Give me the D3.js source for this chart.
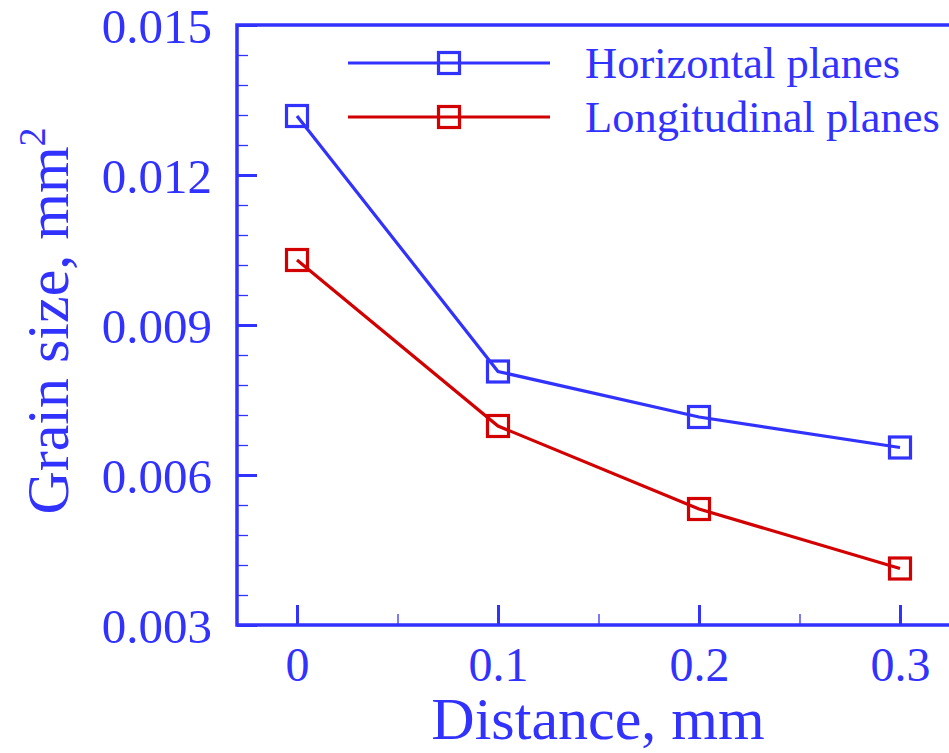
<!DOCTYPE html>
<html>
<head>
<meta charset="utf-8">
<script src="https://cdn.jsdelivr.net/npm/d3@7"></script>
<style>
  html, body { margin: 0; padding: 0; background: #fff; }
  svg { display: block; }
  text { font-family: "Liberation Serif", "Times New Roman", serif; }
</style>
</head>
<body>
<svg id="chart" width="949" height="753"></svg>
<script>
// Grain size measured at increasing distance
const distances = [0, 0.1, 0.2, 0.3];
const horizontalPlanes = [0.01318, 0.00807, 0.00716, 0.00655];
const longitudinalPlanes = [0.0103, 0.00698, 0.00532, 0.00413];
const seriesNames = ["Horizontal planes", "Longitudinal planes"];
const xTickValues = [0, 0.1, 0.2, 0.3];
const xTickLabels = ["0", "0.1", "0.2", "0.3"];
const yTickValues = [0.003, 0.006, 0.009, 0.012, 0.015];
const yTickLabels = ["0.003", "0.006", "0.009", "0.012", "0.015"];

const BLUE = "#3232ff";
const RED = "#d20000";

const svg = d3.select("#chart");
const plotLeft = 237, plotTop = 25, plotBottom = 625, plotRight = 960;

const x = d3.scaleLinear().domain([0, 0.3]).range([297, 900]);
const y = d3.scaleLinear().domain([0.003, 0.015]).range([plotBottom, plotTop]);

// minor ticks
svg.append("g")
  .attr("transform", `translate(${plotLeft},0)`)
  .call(d3.axisLeft(y).tickValues(d3.range(0, 21).map(i => 0.003 + i * 0.0006)).tickSize(-11).tickFormat(""))
  .call(g => g.select(".domain").remove())
  .call(g => g.selectAll("line").attr("stroke", BLUE).attr("stroke-width", 1.3));
svg.append("g")
  .attr("transform", `translate(0,${plotBottom})`)
  .call(d3.axisBottom(x).tickValues([0.05, 0.15, 0.25]).tickSize(-11).tickFormat(""))
  .call(g => g.select(".domain").remove())
  .call(g => g.selectAll("line").attr("stroke", BLUE).attr("stroke-width", 1.3));

// major ticks and labels
const yAxis = svg.append("g")
  .attr("transform", `translate(${plotLeft},0)`)
  .call(d3.axisLeft(y).tickValues(yTickValues).tickSize(-20).tickPadding(25)
    .tickFormat((d, i) => yTickLabels[i]));
yAxis.select(".domain").remove();
yAxis.selectAll("line").attr("stroke", BLUE).attr("stroke-width", 3);
yAxis.selectAll("text").attr("fill", BLUE).attr("dy", "0.36em").style("font-size", "49px")
  .style("font-family", "'Liberation Serif', serif");

const xAxis = svg.append("g")
  .attr("transform", `translate(0,${plotBottom})`)
  .call(d3.axisBottom(x).tickValues(xTickValues).tickSize(-20).tickPadding(22)
    .tickFormat((d, i) => xTickLabels[i]));
xAxis.select(".domain").remove();
xAxis.selectAll("line").attr("stroke", BLUE).attr("stroke-width", 3);
xAxis.selectAll("text").attr("fill", BLUE).style("font-size", "48px")
  .style("font-family", "'Liberation Serif', serif");

// frame: left, top, bottom
svg.append("path")
  .attr("d", `M${plotRight},${plotTop}H${plotLeft}V${plotBottom}H${plotRight}`)
  .attr("fill", "none").attr("stroke", BLUE).attr("stroke-width", 3.5)
  .attr("stroke-linejoin", "miter");

// axis titles
svg.append("text")
  .attr("x", 598).attr("y", 739)
  .attr("text-anchor", "middle").attr("fill", BLUE)
  .style("font-size", "60px")
  .text("Distance, mm");

const yt = svg.append("text")
  .attr("transform", "translate(68,321) rotate(-90)")
  .attr("text-anchor", "middle").attr("fill", BLUE)
  .style("font-size", "60px");
yt.append("tspan").text("Grain size, mm");
yt.append("tspan").attr("dy", "-23").style("font-size", "38px").text("2");

// series
const series = [
  { name: seriesNames[0], values: horizontalPlanes, color: BLUE },
  { name: seriesNames[1], values: longitudinalPlanes, color: RED }
];
const line = d3.line().x(d => x(d[0])).y(d => y(d[1]));
const M = 21;

series.forEach(s => {
  const pts = distances.map((d, i) => [d, s.values[i]]);
  svg.append("path").attr("d", line(pts))
    .attr("fill", "none").attr("stroke", s.color).attr("stroke-width", 3.2);
  svg.append("g").selectAll("rect").data(pts).join("rect")
    .attr("x", d => x(d[0]) - M / 2).attr("y", d => y(d[1]) - M / 2)
    .attr("width", M).attr("height", M)
    .attr("fill", "none").attr("stroke", s.color).attr("stroke-width", 3.2);
});

// legend
series.forEach((s, i) => {
  const ly = 63 + i * 54;
  const g = svg.append("g");
  g.append("line").attr("x1", 348).attr("x2", 550).attr("y1", ly).attr("y2", ly)
    .attr("stroke", s.color).attr("stroke-width", 3.2);
  g.append("rect").attr("x", 449 - M / 2).attr("y", ly - M / 2)
    .attr("width", M).attr("height", M)
    .attr("fill", "none").attr("stroke", s.color).attr("stroke-width", 3.2);
  g.append("text").attr("x", 585).attr("y", ly + 15)
    .attr("fill", BLUE).style("font-size", "44.5px").text(s.name);
});
</script>
</body>
</html>
